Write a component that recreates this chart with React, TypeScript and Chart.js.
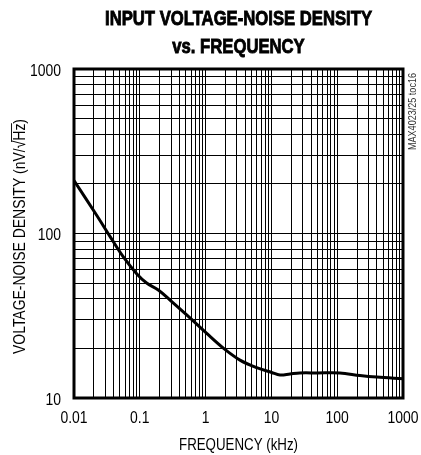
import React, { useEffect, useRef } from 'react';
import { Chart, registerables } from 'chart.js';

Chart.register(...registerables);

const TITLE_LINES = ['INPUT VOLTAGE-NOISE DENSITY', 'vs. FREQUENCY'];
const X_TITLE = 'FREQUENCY (kHz)';
const Y_TITLE_MAIN = 'VOLTAGE-NOISE DENSITY (nV/\u221A';
const Y_TITLE_HZ = 'Hz';
const Y_TITLE_END = ')';
const NOTE = 'MAX4023/25 toc16';

const FREQ_KHZ = [0.01, 0.0221, 0.0352, 0.0562, 0.0896, 0.127, 0.191, 0.288, 0.516, 1.04, 1.86, 3.33, 5.97, 10.1, 13.5, 19.2, 27, 50, 110, 222, 400, 1000];
const NOISE_NV = [210, 129, 96, 72, 57, 50, 45.4, 39.4, 32, 24.7, 20.1, 17.0, 15.3, 14.3, 13.8, 14.0, 14.2, 14.2, 14.2, 13.7, 13.4, 13.1];

const X_MAJOR = [0.01, 0.1, 1, 10, 100, 1000];
const X_LABELS = ['0.01', '0.1', '1', '10', '100', '1000'];
const Y_MAJOR = [10, 100, 1000];
const Y_LABELS = ['10', '100', '1000'];
const MINOR_MULTS = [1, 2, 3, 4, 5, 6, 7, 8, 9];

const FONT = '"Liberation Sans", Arial, sans-serif';

function buildTicks(majors: number[]) {
  const out: { value: number }[] = [];
  for (let i = 0; i < majors.length - 1; i++) {
    for (const m of MINOR_MULTS) out.push({ value: majors[i] * m });
  }
  out.push({ value: majors[majors.length - 1] });
  return out;
}

function drawScaled(ctx: CanvasRenderingContext2D, text: string, x: number, y: number, sx: number, align: CanvasTextAlign, bold = false) {
  ctx.save();
  ctx.translate(x, y);
  ctx.scale(sx, 1);
  ctx.textAlign = align;
  ctx.fillText(text, 0, 0);
  if (bold) {
    ctx.lineWidth = 0.9;
    ctx.strokeText(text, 0, 0);
  }
  ctx.restore();
}

function drawFit(ctx: CanvasRenderingContext2D, text: string, x: number, y: number, target: number, align: CanvasTextAlign) {
  const w = ctx.measureText(text).width;
  drawScaled(ctx, text, x, y, target / w, align);
}

const decor = {
  id: 'decor',
  afterDraw(chart: any) {
    const { ctx, chartArea: a } = chart;
    const xs = chart.scales.x;
    const ys = chart.scales.y;
    ctx.save();
    ctx.strokeStyle = '#000';
    ctx.lineWidth = 3;
    ctx.strokeRect(a.left, a.top, a.right - a.left, a.bottom - a.top);

    ctx.fillStyle = '#000';
    ctx.textBaseline = 'alphabetic';
    const cx = (a.left + a.right) / 2;

    // title (both lines share the same horizontal compression)
    ctx.font = `bold 21px ${FONT}`;
    const tsx = 267 / ctx.measureText(TITLE_LINES[0]).width;
    drawScaled(ctx, TITLE_LINES[0], cx, 25, tsx, 'center', true);
    drawScaled(ctx, TITLE_LINES[1], cx, 53, tsx, 'center', true);

    // tick labels
    ctx.font = `17px ${FONT}`;
    X_MAJOR.forEach((v, i) => {
      drawScaled(ctx, X_LABELS[i], xs.getPixelForValue(v), 423, 0.82, 'center');
    });
    Y_MAJOR.forEach((v, i) => {
      drawScaled(ctx, Y_LABELS[i], 61, ys.getPixelForValue(v) + 6.5, 0.82, 'right');
    });

    // x title
    ctx.font = `17px ${FONT}`;
    drawFit(ctx, X_TITLE, cx, 450, 119, 'center');

    // y title, rotated
    ctx.save();
    ctx.translate(25, (a.top + a.bottom) / 2 + 3);
    ctx.rotate(-Math.PI / 2);
    ctx.font = `17px ${FONT}`;
    const wMain = ctx.measureText(Y_TITLE_MAIN).width;
    const wHz = ctx.measureText(Y_TITLE_HZ).width;
    const wEnd = ctx.measureText(Y_TITLE_END).width;
    const total = wMain + wHz + wEnd;
    const sx = 235 / total;
    ctx.scale(sx, 1);
    ctx.textAlign = 'left';
    const x0 = -total / 2;
    ctx.fillText(Y_TITLE_MAIN, x0, 0);
    ctx.fillText(Y_TITLE_HZ, x0 + wMain, 0);
    ctx.fillText(Y_TITLE_END, x0 + wMain + wHz, 0);
    ctx.lineWidth = 1;
    ctx.beginPath();
    ctx.moveTo(x0 + wMain - 1.5, -13.5);
    ctx.lineTo(x0 + wMain + wHz + 0.5, -13.5);
    ctx.stroke();
    ctx.restore();

    // note
    ctx.save();
    ctx.translate(416, 150);
    ctx.rotate(-Math.PI / 2);
    ctx.font = `11px ${FONT}`;
    ctx.fillStyle = '#333';
    drawFit(ctx, NOTE, 0, 0, 77, 'left');
    ctx.restore();

    ctx.restore();
  },
};

export default function App() {
  const ref = useRef<HTMLCanvasElement>(null);
  useEffect(() => {
    document.body.style.margin = '0';
    const chart = new Chart(ref.current as HTMLCanvasElement, {
      type: 'line',
      data: {
        datasets: [
          {
            data: FREQ_KHZ.map((f, i) => ({ x: f, y: NOISE_NV[i] })),
            borderColor: '#000',
            borderWidth: 3,
            pointRadius: 0,
            tension: 0.35,
            fill: false,
          },
        ],
      },
      options: {
        animation: false,
        responsive: false,
        devicePixelRatio: 1,
        layout: { padding: { top: 69, right: 18, left: 0, bottom: 0 } },
        plugins: { legend: { display: false }, title: { display: false }, tooltip: { enabled: false } },
        scales: {
          x: {
            type: 'logarithmic',
            min: 0.01,
            max: 1000,
            afterBuildTicks: (s: any) => { s.ticks = buildTicks(X_MAJOR); },
            afterFit: (s: any) => { s.height = 57; s.paddingLeft = 0; s.paddingRight = 0; },
            border: { display: false },
            grid: { color: '#000', lineWidth: 1, drawTicks: false },
            ticks: { display: false, autoSkip: false },
          },
          y: {
            type: 'logarithmic',
            min: 10,
            max: 1000,
            afterBuildTicks: (s: any) => { s.ticks = buildTicks(Y_MAJOR); },
            afterFit: (s: any) => { s.width = 74; s.paddingTop = 0; s.paddingBottom = 0; },
            border: { display: false },
            grid: { color: '#000', lineWidth: 1, drawTicks: false },
            ticks: { display: false, autoSkip: false },
          },
        },
      },
      plugins: [decor],
    });
    return () => chart.destroy();
  }, []);
  return (
    <div style={{ position: 'absolute', left: 0, top: 0, width: 421, height: 455 }}>
      <canvas ref={ref} width={421} height={455} style={{ width: 421, height: 455 }} />
    </div>
  );
}
